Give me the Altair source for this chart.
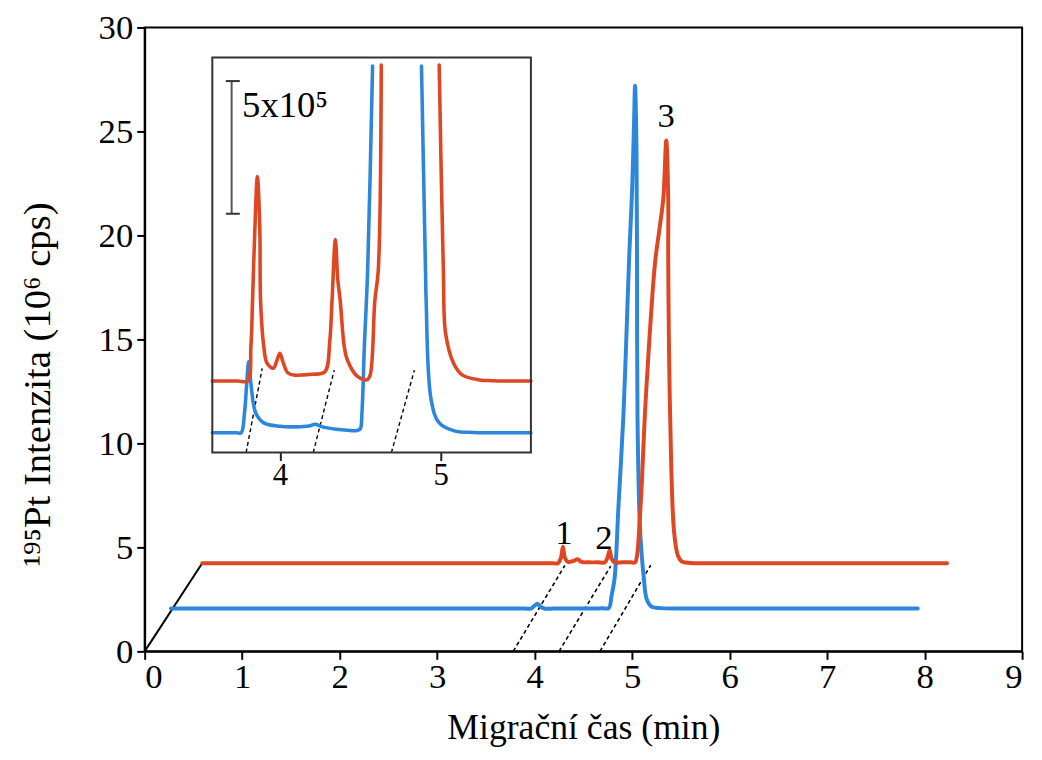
import altair as alt
import pandas as pd

FONT = "Liberation Serif"
BLUE = "#2b86dc"
RED = "#df4622"

# ---------------- main chart data (x: min, y: 10^6 cps) ----------------
blue_x = [0.27, 1.5, 3.0, 3.70, 3.90, 3.96, 4.00, 4.03, 4.06, 4.10, 4.20, 4.40, 4.60, 4.70, 4.76,
          4.79, 4.82, 4.86, 4.91, 4.94, 4.97, 5.00, 5.02, 5.03, 5.045, 5.05, 5.055, 5.08,
          5.12, 5.15, 5.20, 5.30, 5.50, 6.5, 7.93]
blue_y = [2.06, 2.06, 2.06, 2.06, 2.06, 2.06, 2.20, 2.29, 2.15, 2.06, 2.06, 2.06, 2.06, 2.07, 2.08,
          2.70, 3.52, 7.0, 11.3, 15.0, 19.0, 22.25, 25.5, 27.2, 24.0, 19.0, 11.3, 6.0,
          3.52, 2.50, 2.15, 2.08, 2.06, 2.06, 2.06]

red_x = [0.59, 2.0, 3.5, 4.0, 4.18, 4.24, 4.27, 4.29, 4.31, 4.34, 4.40, 4.44, 4.48, 4.55,
         4.65, 4.72, 4.75, 4.77, 4.79, 4.82, 4.90, 4.98, 5.03, 5.05, 5.08, 5.10, 5.13, 5.17,
         5.21, 5.24, 5.28, 5.32, 5.35, 5.37, 5.37, 5.39, 5.43, 5.47, 5.51, 5.60, 5.80,
         7.0, 8.23]
red_y = [4.24, 4.24, 4.24, 4.24, 4.24, 4.24, 4.50, 5.03, 4.50, 4.30, 4.35, 4.43, 4.30, 4.28,
         4.28, 4.28, 4.55, 4.86, 4.45, 4.28, 4.28, 4.28, 4.28, 4.60, 6.5, 8.14, 11.3, 14.5,
         17.3, 18.9, 20.3, 21.8, 24.56, 21.8, 18.9, 11.3, 5.76, 4.60, 4.32, 4.25, 4.24,
         4.24, 4.24]

# perspective guide (origin to red baseline start)
diag_x = [0.0, 0.59]
diag_y = [0.0, 4.24]

# dashed guides in the main chart
dash_x0 = [3.78, 4.25, 4.67]
dash_x1 = [4.31, 4.78, 5.19]
dash_y0 = [0.0, 0.0, 0.0]
dash_y1 = [4.13, 4.10, 4.14]

peak_labels = ["1", "2", "3"]
peak_label_x = [4.30, 4.71, 5.35]
peak_label_y = [5.67, 5.43, 25.76]

# ---------------- inset data (x: min, y: 10^5 cps) ----------------
ins_blue_x = [3.58, 3.66, 3.73, 3.76, 3.78, 3.795, 3.806, 3.82, 3.85, 3.90, 4.00, 4.10, 4.18,
              4.22, 4.26, 4.35, 4.42, 4.48, 4.50, 4.51, 4.525, 4.545, 4.576,
              4.88, 4.905, 4.909, 4.94, 4.99, 5.09, 5.20, 5.30, 5.45, 5.56]
ins_blue_y = [0.75, 0.75, 0.75, 0.75, 1.5, 2.7, 3.42, 2.6, 1.49, 1.12, 0.99, 0.97, 1.0,
              1.07, 0.98, 0.88, 0.84, 0.83, 0.90, 1.5, 4.0, 6.8, 14.57,
              14.57, 6.84, 5.72, 1.99, 1.12, 0.81, 0.76, 0.75, 0.75, 0.75]
ins_blue_seg = [0] * 23 + [1] * 10

ins_red_x = [3.58, 3.66, 3.74, 3.80, 3.82, 3.83, 3.845, 3.86, 3.875, 3.88, 3.90, 3.92, 3.96,
             3.98, 4.00, 4.02, 4.05, 4.09, 4.15, 4.20, 4.28, 4.31, 4.324, 4.345, 4.36, 4.375,
             4.40, 4.42, 4.48, 4.54, 4.56, 4.59, 4.611, 4.63,
             4.99, 5.016, 5.03, 5.08, 5.135, 5.24, 5.32, 5.44, 5.56]
ins_red_y = [2.70, 2.70, 2.70, 2.70, 4.0, 5.72, 8.5, 10.4, 8.5, 5.72, 4.0, 3.37, 3.18,
             3.45, 3.74, 3.40, 3.00, 2.92, 2.93, 2.95, 3.05, 4.2, 5.72, 8.03, 6.5, 5.72,
             4.0, 3.48, 2.88, 2.74, 2.9, 5.72, 6.84, 14.6,
             14.6, 6.84, 4.49, 3.36, 2.92, 2.74, 2.71, 2.70, 2.70]
ins_red_seg = [0] * 34 + [1] * 9

ins_dash_x0 = [3.79, 4.207, 4.693]
ins_dash_x1 = [3.89, 4.338, 4.836]
ins_dash_y0 = [0.0, 0.0, 0.0]
ins_dash_y1 = [3.17, 3.11, 3.11]

ins_xdom = [3.58, 5.56]
ins_ydom = [0.0, 14.89]
ins_ticks = [4, 5]

bar_x = [3.70]
bar_y0 = [9.0]
bar_y1 = [14.0]
cap_x0 = [3.664, 3.664]
cap_x1 = [3.751, 3.751]
cap_y = [9.0, 14.0]
bar_text = ["5x10\u2075"]
bar_text_x = [3.765]
bar_text_y = [13.05]

# ---------------- tables ----------------
main_df = pd.concat([
    pd.DataFrame({"x": blue_x, "y": blue_y, "series": "b", "i": range(len(blue_x))}),
    pd.DataFrame({"x": red_x, "y": red_y, "series": "r", "i": range(len(red_x))}),
])
diag_df = pd.DataFrame({"x": diag_x, "y": diag_y})
dash_df = pd.DataFrame({"x": dash_x0, "x2": dash_x1, "y": dash_y0, "y2": dash_y1})
lab_df = pd.DataFrame({"x": peak_label_x, "y": peak_label_y, "t": peak_labels})

ins_df = pd.concat([
    pd.DataFrame({"x": ins_blue_x, "y": ins_blue_y, "series": "b",
                  "seg": [f"b{s}" for s in ins_blue_seg], "i": range(len(ins_blue_x))}),
    pd.DataFrame({"x": ins_red_x, "y": ins_red_y, "series": "r",
                  "seg": [f"r{s}" for s in ins_red_seg], "i": range(len(ins_red_x))}),
])
ins_dash_df = pd.DataFrame({"x": ins_dash_x0, "x2": ins_dash_x1, "y": ins_dash_y0, "y2": ins_dash_y1})
frame_df = pd.DataFrame({"x": [ins_xdom[0]], "x2": [ins_xdom[1]], "y": [ins_ydom[0]], "y2": [ins_ydom[1]]})
bar_df = pd.DataFrame({"x": bar_x, "y": bar_y0, "y2": bar_y1})
cap_df = pd.DataFrame({"x": cap_x0, "x2": cap_x1, "y": cap_y})
btxt_df = pd.DataFrame({"x": bar_text_x, "y": bar_text_y, "t": bar_text})

# ---------------- scales / axes ----------------
xs = alt.Scale(domain=[0, 9], nice=False, zero=False)
ys = alt.Scale(domain=[0, 30], nice=False, zero=False)
color_scale = alt.Scale(domain=["b", "r"], range=[BLUE, RED])

xaxis = alt.Axis(values=list(range(10)), title="Migrační čas (min)", grid=False,
                 tickSize=8, tickWidth=2, domainWidth=2, domainColor="black", tickColor="black",
                 labelFont=FONT, labelFontSize=35, labelColor="black", labelPadding=0,
                 titleFont=FONT, titleFontSize=36, titleFontWeight="normal", titleColor="black",
                 titlePadding=17)
yaxis = alt.Axis(values=[0, 5, 10, 15, 20, 25, 30], title="\u00b9\u2079\u2075Pt Intenzita (10\u2076 cps)",
                 grid=False, tickSize=8, tickWidth=2, domainWidth=2, domainColor="black",
                 tickColor="black", labelFont=FONT, labelFontSize=35, labelColor="black",
                 labelPadding=4, titleFont=FONT, titleFontSize=39, titleFontWeight="normal",
                 titleColor="black", titlePadding=41, titleY=360)

X = alt.X("x:Q", scale=xs, axis=xaxis)
Y = alt.Y("y:Q", scale=ys, axis=yaxis)

main_lines = alt.Chart(main_df).mark_line(strokeWidth=4, strokeCap="round", strokeJoin="round",
                                          interpolate="catmull-rom").encode(
    x=X, y=Y, color=alt.Color("series:N", scale=color_scale, legend=None), order="i:Q")
diag = alt.Chart(diag_df).mark_line(color="black", strokeWidth=2).encode(x=X, y=Y)
dashes = alt.Chart(dash_df).mark_rule(color="black", strokeWidth=1.6, strokeDash=[4, 3]).encode(
    x=X, y=Y, x2="x2:Q", y2="y2:Q")
labels = alt.Chart(lab_df).mark_text(font=FONT, fontSize=35, color="black", baseline="middle").encode(
    x=X, y=Y, text="t:N")

main = alt.layer(dashes, diag, main_lines, labels)

ixs = alt.Scale(domain=ins_xdom, range=[68.3, 390], nice=False, zero=False)
iys = alt.Scale(domain=ins_ydom, range=[429.3, 30.3], nice=False, zero=False)
ixaxis = alt.Axis(orient="bottom", offset=-200.7, values=ins_ticks, title=None, grid=False,
                  domain=False, tickSize=8, tickWidth=2, tickColor="#222",
                  labelFont=FONT, labelFontSize=31, labelColor="black", labelPadding=0)
IX = alt.X("x:Q", scale=ixs, axis=ixaxis)
IY = alt.Y("y:Q", scale=iys, axis=None)

frame = alt.Chart(frame_df).mark_rect(fillOpacity=0, stroke="#333", strokeWidth=2).encode(
    x=IX, x2="x2:Q", y=IY, y2="y2:Q")
ins_lines = alt.Chart(ins_df).mark_line(strokeWidth=3.6, strokeCap="round", strokeJoin="round",
                                        interpolate="catmull-rom").encode(
    x=IX, y=IY, color=alt.Color("series:N", scale=color_scale, legend=None),
    detail="seg:N", order="i:Q")
ins_dashes = alt.Chart(ins_dash_df).mark_rule(color="black", strokeWidth=1.4, strokeDash=[4, 3]).encode(
    x=IX, y=IY, x2="x2:Q", y2="y2:Q")
bar = alt.Chart(bar_df).mark_rule(color="#555", strokeWidth=2).encode(x=IX, y=IY, y2="y2:Q")
caps = alt.Chart(cap_df).mark_rule(color="#333", strokeWidth=2).encode(x=IX, x2="x2:Q", y=IY)
btxt = alt.Chart(btxt_df).mark_text(font=FONT, fontSize=37, color="black", align="left",
                                     baseline="middle").encode(x=IX, y=IY, text="t:N")

inset = alt.layer(ins_dashes, ins_lines, frame, bar, caps, btxt)

chart = alt.layer(main, inset).resolve_scale(x="independent", y="independent").properties(
    width=886, height=630,
    autosize=alt.AutoSizeParams(type="none"),
    padding={"left": 138, "top": 16, "right": 12, "bottom": 100},
).configure_view(stroke="black", strokeWidth=2)

chart.save("out.html", embed_options={"renderer": "svg", "actions": False})
